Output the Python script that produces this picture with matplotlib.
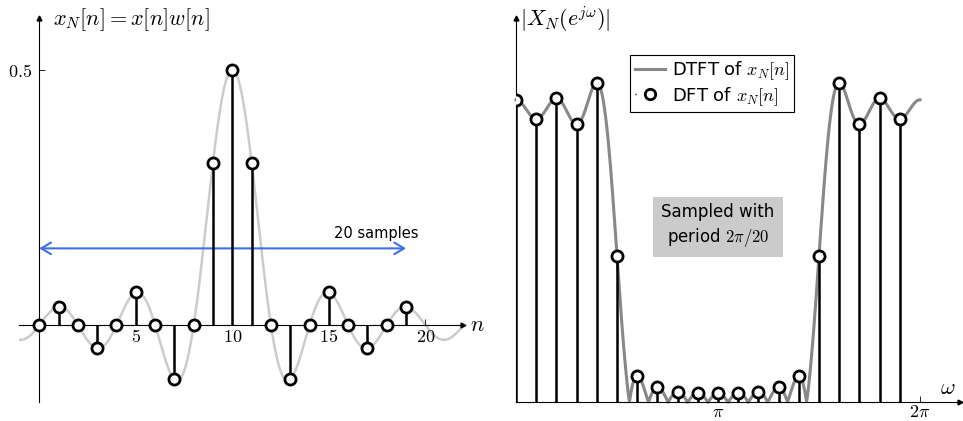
import numpy as np
import matplotlib
matplotlib.use("Agg")
import matplotlib.pyplot as plt
from matplotlib.lines import Line2D

plt.rcParams['font.family'] = ['DejaVu Sans']
plt.rcParams['mathtext.fontset'] = 'cm'

# windowed samples x_N[n], n = 0..19
n = np.arange(20)
x_n = [0.0, 0.035, 0.0, -0.045, 0.0, 0.064, 0.0, -0.106, 0.0, 0.318,
       0.5, 0.318, 0.0, -0.106, 0.0, 0.064, 0.0, -0.045, 0.0, 0.035]

# underlying ideal low-pass x[n]: peak value and centre of the grey curve
peak = 0.5
centre = 10

left_xticks = [5, 10, 15, 20]
left_yticks = [0.5]
right_xticks = [np.pi, 2 * np.pi]
right_xlabels = [r'$\pi$', r'$2\pi$']

STEM = 'black'
CURVE_LIGHT = '#cccccc'
CURVE_DARK = '#888888'
BLUE = '#3f6fe8'

fig = plt.figure(figsize=(9.63, 4.21), dpi=100)


def arrow_axes(ax):
    for side in ['top', 'right']:
        ax.spines[side].set_visible(False)
    for side in ['left', 'bottom']:
        ax.spines[side].set_position(('data', 0))
        ax.spines[side].set_linewidth(0.8)
    ax.plot(1, 0, '>k', ms=3.5, transform=ax.get_yaxis_transform(), clip_on=False)
    ax.plot(0, 1, '^k', ms=3.5, transform=ax.get_xaxis_transform(), clip_on=False)
    ax.tick_params(direction='in', length=4, width=0.6)


# ---- left: time domain ----
ax1 = fig.add_axes([19 / 963, 1 - 401.7 / 421, 444 / 963, 383.3 / 421])
ax1.set_xlim(-1.05, 21.95)
ax1.set_ylim(-0.15, 0.6)
arrow_axes(ax1)

t = np.linspace(-1.05, 21.95, 600)
ax1.plot(t, peak * np.sinc((t - centre) / 2), color=CURVE_LIGHT, lw=1.8, zorder=1)

ax1.annotate('', xy=(19, 0.15), xytext=(0, 0.15),
             arrowprops=dict(arrowstyle='<->,head_length=0.5,head_width=0.3',
                             color=BLUE, lw=1.5, shrinkA=0, shrinkB=0,
                             mutation_scale=14), zorder=2)
ax1.text(17.45, 0.18, '20 samples', fontsize=10.5, ha='center', va='center')

ax1.vlines(n, 0, x_n, color=STEM, lw=1.8, zorder=3)
ax1.plot(n, x_n, 'o', mfc='white', mec=STEM, mew=2, ms=8, zorder=4)

ax1.set_xticks(left_xticks)
ax1.set_xticklabels([f'${v}$' for v in left_xticks], fontsize=13)
ax1.set_yticks(left_yticks)
ax1.set_yticklabels([r'$0.5$'], fontsize=13)
ax1.tick_params(axis='x', pad=2)
ax1.tick_params(axis='y', pad=5)

ax1.text(0.71, 0.597, r'$x_N[n] = x[n]w[n]$', fontsize=16, ha='left', va='center')
ax1.text(22.3, 0.0, r'$n$', fontsize=16, ha='left', va='center', clip_on=False)

# ---- right: frequency domain ----
ax2 = fig.add_axes([516 / 963, 1 - 402.3 / 421, 444 / 963, 384 / 421])
ax2.set_xlim(0, 6.905)
ax2.set_ylim(0, 1.31)
arrow_axes(ax2)

n_fine = 800
dtft = np.abs(np.fft.fft(x_n, n_fine))
w_fine = 2 * np.pi * np.arange(n_fine + 1) / n_fine
ax2.plot(w_fine, np.append(dtft, dtft[0]), color=CURVE_DARK, lw=2.2,
         zorder=1, clip_on=False)

dft = np.abs(np.fft.fft(x_n))
w_k = 2 * np.pi * n / len(n)
ax2.vlines(w_k, 0, dft, color=STEM, lw=1.8, zorder=3)
ax2.plot(w_k, dft, 'o', mfc='white', mec=STEM, mew=2, ms=8, zorder=4)

ax2.set_xticks(right_xticks)
ax2.set_xticklabels(right_xlabels, fontsize=13)
ax2.set_yticks([])
ax2.tick_params(axis='x', pad=0.5)

ax2.text(0.06, 1.306, r'$|X_N(e^{j\omega})|$', fontsize=16, ha='left', va='center')
ax2.text(6.72, 0.049, r'$\omega$', fontsize=16, ha='center', va='center')

ax2.text(np.pi, 0.602, 'Sampled with\nperiod $2\\pi/20$', fontsize=12,
         ha='center', va='center', multialignment='center', linespacing=1.35,
         bbox=dict(boxstyle='square,pad=0.5', facecolor='#cbcbcb', edgecolor='none'))

handles = [
    Line2D([], [], color=CURVE_DARK, lw=2.2),
    Line2D([], [], color='black', lw=1.0, ls=(0, (0.8, 10.2)), marker='o',
           mfc='white', mec='black', mew=2, ms=7.5),
]
ax2.legend(handles, [r'DTFT of $x_N[n]$', r'DFT of $x_N[n]$'],
           loc='upper left', bbox_to_anchor=(630 / 963, 1 - 55 / 421),
           bbox_transform=fig.transFigure, borderaxespad=0, fontsize=13,
           fancybox=False, framealpha=1, edgecolor='black', handlelength=1.7,
           handletextpad=0.4, borderpad=0.25, labelspacing=0.15)
ax2.get_legend().get_frame().set_linewidth(0.8)

fig.savefig('out.png', dpi=100)
